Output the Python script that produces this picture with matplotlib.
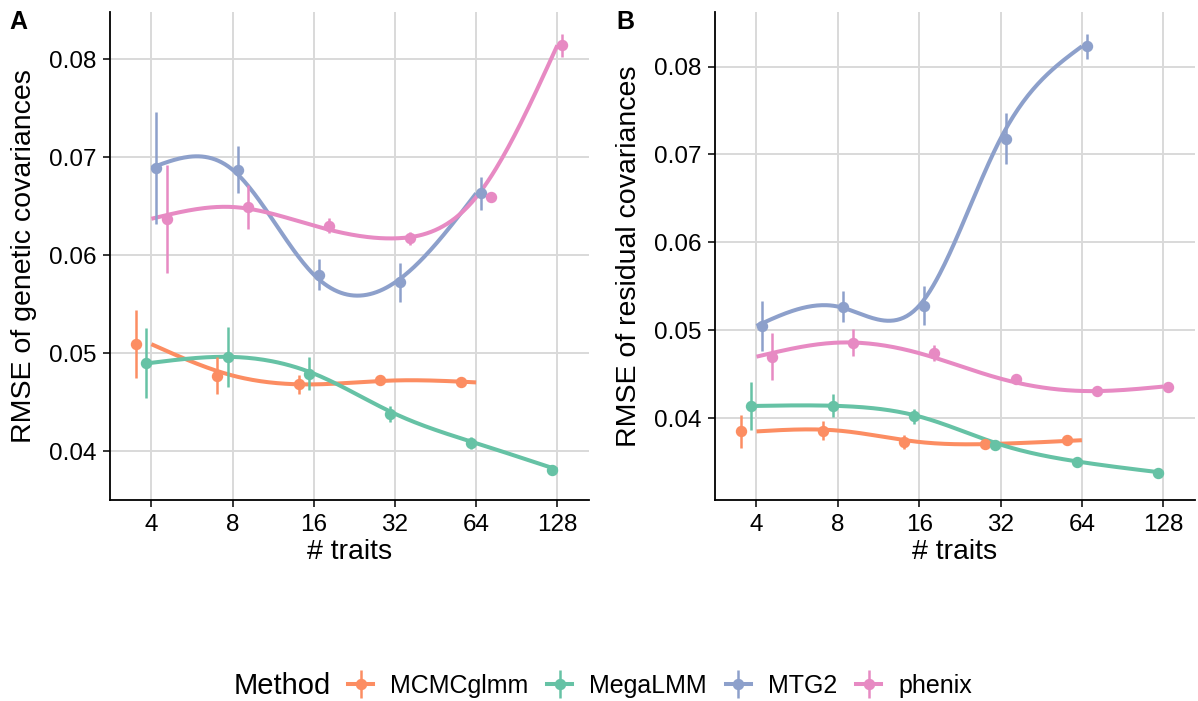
import numpy as np
import matplotlib
matplotlib.use("Agg")
import matplotlib.pyplot as plt
from matplotlib.lines import Line2D
from matplotlib.legend_handler import HandlerTuple

plt.rcParams["font.family"] = ["Liberation Sans", "DejaVu Sans"]

nan = np.nan
traits = [4, 8, 16, 32, 64, 128]
methods = ["MCMCglmm", "MegaLMM", "MTG2", "phenix"]
colors = ["#FC8D62", "#66C2A5", "#8DA0CB", "#E78AC3"]

# panel A: genetic covariances (mean and standard error)
gen_mcmcglmm = [0.0509, 0.0477, 0.0468, 0.0472, 0.0470, nan]
gen_megalmm = [0.0490, 0.0496, 0.0479, 0.0438, 0.0408, 0.0381]
gen_mtg2 = [0.0689, 0.0687, 0.0580, 0.0572, 0.0663, nan]
gen_phenix = [0.0637, 0.0649, 0.0630, 0.0617, 0.0659, 0.0814]
gen_mcmcglmm_se = [0.0035, 0.0019, 0.0010, 0.0003, 0.0004, nan]
gen_megalmm_se = [0.0036, 0.0031, 0.0017, 0.0008, 0.0006, 0.0005]
gen_mtg2_se = [0.0057, 0.0024, 0.0016, 0.0020, 0.0017, nan]
gen_phenix_se = [0.0055, 0.0022, 0.0008, 0.0007, 0.0004, 0.0012]

# panel B: residual covariances
res_mcmcglmm = [0.0385, 0.0386, 0.0373, 0.0371, 0.0375, nan]
res_megalmm = [0.0414, 0.0414, 0.0402, 0.0370, 0.0350, 0.0338]
res_mtg2 = [0.0505, 0.0527, 0.0528, 0.0718, 0.0823, nan]
res_phenix = [0.0470, 0.0486, 0.0474, 0.0445, 0.0431, 0.0436]
res_mcmcglmm_se = [0.0019, 0.0011, 0.0008, 0.0003, 0.0003, nan]
res_megalmm_se = [0.0027, 0.0013, 0.0009, 0.0003, 0.0003, 0.0003]
res_mtg2_se = [0.0028, 0.0018, 0.0022, 0.0029, 0.0014, nan]
res_phenix_se = [0.0027, 0.0015, 0.0009, 0.0003, 0.0002, 0.0003]

yticks = [0.04, 0.05, 0.06, 0.07, 0.08]


def natural_spline(x, y, xs):
    n = len(x)
    h = np.diff(x)
    A = np.zeros((n, n))
    b = np.zeros(n)
    A[0, 0] = A[-1, -1] = 1
    for i in range(1, n - 1):
        A[i, i - 1] = h[i - 1]
        A[i, i] = 2 * (h[i - 1] + h[i])
        A[i, i + 1] = h[i]
        b[i] = 6 * ((y[i + 1] - y[i]) / h[i] - (y[i] - y[i - 1]) / h[i - 1])
    M = np.linalg.solve(A, b)
    idx = np.clip(np.searchsorted(x, xs) - 1, 0, n - 2)
    x0, x1 = x[idx], x[idx + 1]
    hh = x1 - x0
    return (M[idx] * (x1 - xs) ** 3 / (6 * hh) + M[idx + 1] * (xs - x0) ** 3 / (6 * hh)
            + (y[idx] / hh - M[idx] * hh / 6) * (x1 - xs)
            + (y[idx + 1] / hh - M[idx + 1] * hh / 6) * (xs - x0))


def draw_panel(ax, means, ses, ylim, ylabel):
    lx = np.log2(traits)
    means = [np.array(m) for m in means]
    ses = [np.array(s) for s in ses]
    # dodge offsets (log2 units) among methods present at each trait count
    offsets = [np.full(len(traits), nan) for _ in methods]
    for j in range(len(traits)):
        present = [k for k in range(len(methods)) if not np.isnan(means[k][j])]
        for r, k in enumerate(present):
            offsets[k][j] = (r - (len(present) - 1) / 2) * 0.125

    for k in range(len(methods)):
        ok = ~np.isnan(means[k])
        xs = np.linspace(lx[ok].min(), lx[ok].max(), 200)
        ys = natural_spline(lx[ok], means[k][ok], xs)
        ax.plot(2 ** xs, ys, color=colors[k], lw=2.9, zorder=3, solid_capstyle="butt")
    for k in range(len(methods)):
        ok = ~np.isnan(means[k])
        px = 2 ** (lx[ok] + offsets[k][ok])
        ax.errorbar(px, means[k][ok], yerr=ses[k][ok], fmt="o", color=colors[k],
                    ms=7.2, elinewidth=1.8, capsize=0, zorder=4)

    ax.set_xscale("log", base=2)
    ax.set_xlim(2 ** 1.49, 2 ** 7.39)
    ax.set_xticks(traits)
    ax.set_xticklabels([str(t) for t in traits])
    ax.minorticks_off()
    ax.set_ylim(*ylim)
    ax.set_yticks(yticks)
    ax.set_yticklabels([f"{v:.2f}" for v in yticks])
    ax.grid(True, color="#D9D9D9", lw=1.4)
    ax.set_axisbelow(True)
    for s in ["top", "right"]:
        ax.spines[s].set_visible(False)
    for s in ["left", "bottom"]:
        ax.spines[s].set_linewidth(1.3)
    ax.tick_params(length=5, width=1.1, labelsize=17.5, pad=5)
    ax.set_xlabel("# traits", fontsize=20.5, labelpad=2)
    ax.set_ylabel(ylabel, fontsize=20.5, labelpad=8)


fig = plt.figure(figsize=(11.98, 7.01), dpi=100)
W, H = 1198, 701
axA = fig.add_axes([110 / W, (H - 500) / H, 479 / W, 488 / H])
axB = fig.add_axes([715 / W, (H - 500) / H, 480 / W, 488 / H])

draw_panel(axA, [gen_mcmcglmm, gen_megalmm, gen_mtg2, gen_phenix],
           [gen_mcmcglmm_se, gen_megalmm_se, gen_mtg2_se, gen_phenix_se],
           (0.0350, 0.0848), "RMSE of genetic covariances")
draw_panel(axB, [res_mcmcglmm, res_megalmm, res_mtg2, res_phenix],
           [res_mcmcglmm_se, res_megalmm_se, res_mtg2_se, res_phenix_se],
           (0.0307, 0.0862), "RMSE of residual covariances")

fig.text(9 / W, 1 - 10 / H, "A", fontsize=18, fontweight="bold", va="top", ha="left")
fig.text(616 / W, 1 - 10 / H, "B", fontsize=18, fontweight="bold", va="top", ha="left")

# legend: title at left, keys are point + vertical range + horizontal line
handles = []
for c in colors:
    h1 = Line2D([], [], color=c, lw=2.9, marker="o", ms=7.2)
    h2 = Line2D([], [], color=c, lw=0, marker="|", ms=20, mew=1.8)
    handles.append((h1, h2))
fig.text(234 / W, 1 - 686 / H, "Method", fontsize=21, va="center", ha="left")
fig.legend(handles, methods, handler_map={tuple: HandlerTuple(ndivide=1, pad=0)},
           loc="center left", bbox_to_anchor=(348 / W, 1 - 686 / H), ncol=4,
           frameon=False, fontsize=18, handlelength=1.0, handletextpad=0.68,
           columnspacing=0.76, borderaxespad=0, borderpad=0)

fig.savefig("out.png", dpi=100)
